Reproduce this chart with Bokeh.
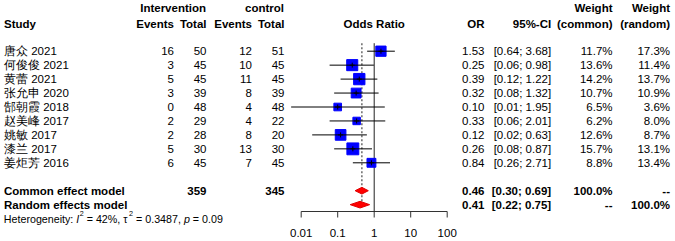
import numpy as np
from bokeh.plotting import figure
from bokeh.models import ColumnDataSource, Range1d, LogScale
from bokeh.core.properties import value
from bokeh.embed import file_html
from bokeh.resources import INLINE

# ---------------- data ----------------
studies = ["唐众 2021", "何俊俊 2021", "黄蕾 2021", "张允申 2020", "郜朝霞 2018",
           "赵美峰 2017", "姚敏 2017", "漆兰 2017", "姜炬芳 2016"]
ev_int = [16, 3, 5, 3, 0, 2, 2, 5, 6]
n_int = [50, 45, 45, 39, 48, 29, 28, 30, 45]
ev_ctl = [12, 10, 11, 8, 4, 4, 8, 13, 7]
n_ctl = [51, 45, 45, 39, 48, 22, 20, 30, 45]
or_est = [1.53, 0.25, 0.39, 0.32, 0.10, 0.33, 0.12, 0.26, 0.84]
ci_lo = [0.64, 0.06, 0.12, 0.08, 0.0053, 0.06, 0.02, 0.08, 0.26]
ci_hi = [3.68, 0.98, 1.22, 1.32, 1.95, 2.01, 0.63, 0.87, 2.71]
w_common = [11.7, 13.6, 14.2, 10.7, 6.5, 6.2, 12.6, 15.7, 8.8]
w_random = [17.3, 11.4, 13.7, 10.9, 3.6, 8.0, 8.7, 13.1, 13.4]

models = ["Common effect model", "Random effects model"]
model_or = [0.46, 0.41]
model_lo = [0.30, 0.22]
model_hi = [0.69, 0.75]
model_w_common = ["100.0%", "--"]
model_w_random = ["--", "100.0%"]

i2 = 42
tau2 = 0.3487
p_het = 0.09
null_value = 1.0

tick_vals = [0.01, 0.1, 1, 10, 100]
tick_labels = ["0.01", "0.1", "1", "10", "100"]

# ---------------- layout helpers ----------------
FONT = "Liberation Sans"
FS = "11.5px"
W, H = 675, 241
R0, S = 50.7, 13.95         # first row centre (px from top) and row pitch (px)
AX_PX = 211.0               # axis line position (px from top)


def ry(py):
    return (py - R0) / S


h1, h2 = ry(7.5), ry(23.0)
n = len(studies)
idx = list(range(n))
y_common, y_random = n + 1, n + 2
y_het = n + 3.0
y_axis = ry(AX_PX)
y_tick_end = ry(AX_PX + 6)
y_tick_lab = ry(232.7)

X0 = 300.7   # pixel of 0.01
X1 = 446.7   # pixel of 100
dec = (X1 - X0) / 4.0
or_start = 10 ** (-2 - X0 / dec)
or_end = 10 ** (2 + (W - X1) / dec)

p = figure(width=W, height=H, output_backend="svg", toolbar_location=None,
           x_range=Range1d(0, W), y_range=Range1d(ry(H), ry(0)),
           x_axis_location=None, y_axis_location=None,
           min_border_left=0, min_border_right=0, min_border_top=0, min_border_bottom=0)
p.extra_x_ranges = {"or": Range1d(or_start, or_end)}
p.extra_x_scales = {"or": LogScale()}
p.outline_line_color = None
p.xgrid.visible = False
p.ygrid.visible = False
p.background_fill_color = "white"
p.border_fill_color = "white"


def txt(xs, ys, texts, align="left", style="normal", size=FS, rng="default"):
    src = ColumnDataSource(dict(x=xs, y=ys, t=texts))
    p.text(x="x", y="y", text="t", source=src, text_align=align,
           text_baseline="middle", text_font=value(FONT), text_font_size=size,
           text_font_style=style, text_color="black", x_range_name=rng)


# ---------------- left columns ----------------
c_study = 3.5
c_ei, c_ni, c_ec, c_nc = 173.5, 206.0, 251.5, 284.0

txt([205.5, 283.5], [h1, h1], ["Intervention", "control"], "right", "bold")
txt([c_study], [h2], ["Study"], "left", "bold")
txt([c_ei, c_ni, c_ec, c_nc], [h2] * 4, ["Events", "Total", "Events", "Total"], "right", "bold")
txt([c_study] * n, idx, studies, "left")
txt([c_ei] * n, idx, [str(v) for v in ev_int], "right")
txt([c_ni] * n, idx, [str(v) for v in n_int], "right")
txt([c_ec] * n, idx, [str(v) for v in ev_ctl], "right")
txt([c_nc] * n, idx, [str(v) for v in n_ctl], "right")
txt([c_study] * 2, [y_common, y_random], models, "left", "bold")
txt([c_ni, c_nc], [y_common, y_common], [str(sum(n_int)), str(sum(n_ctl))], "right", "bold")

# heterogeneity line, assembled from pieces (italic I and p, superscript 2)
AW = {"H": 722, "e": 556, "t": 278, "r": 333, "o": 556, "g": 556, "n": 556, "i": 222,
      "y": 500, ":": 278, " ": 278, "I": 278, "=": 584, "%": 889, ",": 278, ".": 278,
      "p": 556, "\u03c4": 500}
for d in "0123456789":
    AW[d] = 556


def tw(s, size):
    return sum(AW.get(ch, 556) for ch in s) * size / 1000.0


HF, SF = 10.7, 7.2
sup = 0.4
space = tw(" ", HF)
pieces = [
    ("Heterogeneity:", "normal", HF, 0.0, space),
    ("I", "italic", HF, 0.0, 0.4),
    ("2", "normal", SF, sup, space),
    ("= %d%%, \u03c4" % i2, "normal", HF, 0.0, 0.4),
    ("2", "normal", SF, sup, space),
    ("= %.4f," % tau2, "normal", HF, 0.0, space),
    ("p", "italic", HF, 0.0, space),
    ("= %.2f" % p_het, "normal", HF, 0.0, 0.0),
]
xcur = 3.3
for t, st, sz, dy, gap in pieces:
    txt([xcur], [y_het - dy], [t], "left", st, "%.1fpx" % sz)
    xcur += tw(t, sz) + gap

# ---------------- forest ----------------
txt([null_value], [h2], ["Odds Ratio"], "center", "bold", rng="or")

# axis drawn from the tick arrays through the log scale
p.segment(x0=[tick_vals[0]], y0=[y_axis], x1=[tick_vals[-1]], y1=[y_axis],
          line_color="#333333", line_width=1, x_range_name="or")
p.segment(x0=tick_vals, y0=[y_axis] * len(tick_vals), x1=tick_vals,
          y1=[y_tick_end] * len(tick_vals), line_color="#333333", line_width=1,
          x_range_name="or")
txt(tick_vals, [y_tick_lab] * len(tick_vals), tick_labels, "center", rng="or")

# reference lines
top = ry(42.7)
p.segment(x0=[null_value], y0=[top], x1=[null_value], y1=[y_axis],
          line_color="#222222", line_width=1, x_range_name="or")
p.segment(x0=[model_or[0]], y0=[top], x1=[model_or[0]], y1=[y_random - 0.24],
          line_color="#444444", line_width=1.2, line_dash="2 2", x_range_name="or")

# study squares, CIs and centre ticks
sizes = [3.0 * np.sqrt(w) for w in w_common]
fsrc = ColumnDataSource(dict(y=idx, est=or_est, lo=ci_lo, hi=ci_hi, size=sizes))
p.scatter(x="est", y="y", size="size", marker="square", source=fsrc,
          fill_color="#0000FF", line_color="#0000FF", x_range_name="or")
p.segment(x0="lo", y0="y", x1="hi", y1="y", source=fsrc,
          line_color="black", line_width=1, x_range_name="or")
p.scatter(x="est", y="y", size=5, marker="cross", source=fsrc,
          line_color="black", line_width=1, x_range_name="or")

# pooled diamonds
dh = 0.24
ys_m = [y_common, y_random]
dxs = [[lo, e, hi, e] for lo, e, hi in zip(model_lo, model_or, model_hi)]
dys = [[y, y - dh, y, y + dh] for y in ys_m]
p.patches(xs=dxs, ys=dys, fill_color="#FF0000", line_color="#E00000", line_width=1,
          x_range_name="or")

# ---------------- right columns ----------------
c_or, c_ci, c_wc, c_wr = 484.0, 550.7, 612.0, 669.5

txt([c_wc, c_wr], [h1, h1], ["Weight", "Weight"], "right", "bold")
txt([c_or, c_ci, c_wc, c_wr], [h2] * 4, ["OR", "95%-CI", "(common)", "(random)"], "right", "bold")
txt([c_or] * n, idx, ["%.2f" % v for v in or_est], "right")
txt([c_ci] * n, idx, ["[%.2f; %.2f]" % (a, b) for a, b in zip(ci_lo, ci_hi)], "right")
txt([c_wc] * n, idx, ["%.1f%%" % v for v in w_common], "right")
txt([c_wr] * n, idx, ["%.1f%%" % v for v in w_random], "right")
txt([c_or] * 2, ys_m, ["%.2f" % v for v in model_or], "right", "bold")
txt([c_ci] * 2, ys_m, ["[%.2f; %.2f]" % (a, b) for a, b in zip(model_lo, model_hi)], "right", "bold")
txt([c_wc] * 2, ys_m, model_w_common, "right", "bold")
txt([c_wr] * 2, ys_m, model_w_random, "right", "bold")

open("out.html", "w").write(file_html(p, INLINE))
